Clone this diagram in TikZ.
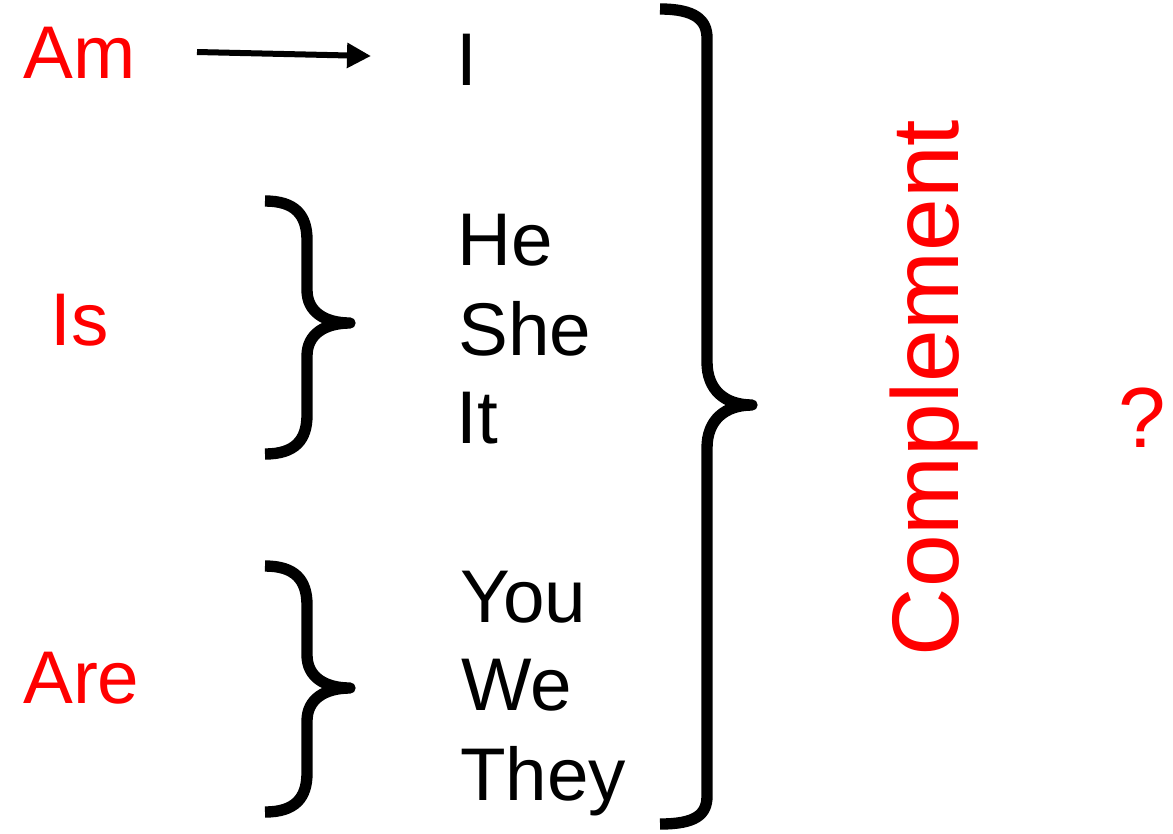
\documentclass[tikz,border=0pt]{standalone}
\usepackage{fontspec}
\setmainfont{Liberation Sans}
\usetikzlibrary{arrows.meta}
\tikzset{
  word/.style={inner sep=0pt, anchor=base west, font=\fontsize{56}{62}\selectfont},
  verb/.style={word, text=red},
  bracepath/.style={line width=8.5pt, line cap=butt, line join=round},
  arrowline/.style={line width=4.5pt, -{Triangle[length=18pt,width=18pt]}}
}
\begin{document}
\begin{tikzpicture}[x=0.75pt,y=-0.75pt]
\useasboundingbox (0,0) rectangle (1173,833);
% verbs
\node[verb] (am) at (23,78) {Am};
\node[verb] (is) at (50,345) {Is};
\node[verb] (are) at (23,703) {Are};
% pronouns
\node[word] (i) at (456,85) {I};
\node[word] (he) at (457,265) {He};
\node[word] (she) at (458,355) {She};
\node[word] (it) at (456,443) {It};
\node[word] (you) at (460,622) {You};
\node[word] (we) at (461,710) {We};
\node[word] (they) at (460,800) {They};
% complement
\node[inner sep=0pt, anchor=base, rotate=90, text=red, font=\fontsize{71}{80}\selectfont] (comp) at (958,388) {Complement};
\node[inner sep=0pt, anchor=base west, text=red, font=\fontsize{64}{70}\selectfont] (q) at (1118,447) {?};
% arrow
\coordinate (arrS) at (197,52);
\coordinate (arrE) at (371,56);
\draw[arrowline] (arrS) -- (arrE);
% small brace 1
\draw[bracepath] (265,201) .. controls (295,201) and (307,215) .. (307,240)
  -- (307,290) .. controls (307,312) and (325,323) .. (350,323)
  .. controls (325,323) and (307,334) .. (307,356)
  -- (307,415) .. controls (307,440) and (295,454) .. (265,454);
% small brace 2
\draw[bracepath] (265,566) .. controls (295,566) and (307,580) .. (307,605)
  -- (307,655) .. controls (307,677) and (325,688) .. (350,688)
  .. controls (325,688) and (307,699) .. (307,721)
  -- (307,773) .. controls (307,798) and (295,812) .. (265,812);
% big brace
\draw[bracepath] (660,9) .. controls (695,9) and (707,20) .. (707,38)
  -- (707,362) .. controls (707,390) and (725,405) .. (752,405)
  .. controls (725,405) and (707,420) .. (707,448)
  -- (707,796) .. controls (707,815) and (695,824) .. (660,824);
\end{tikzpicture}
\end{document}
